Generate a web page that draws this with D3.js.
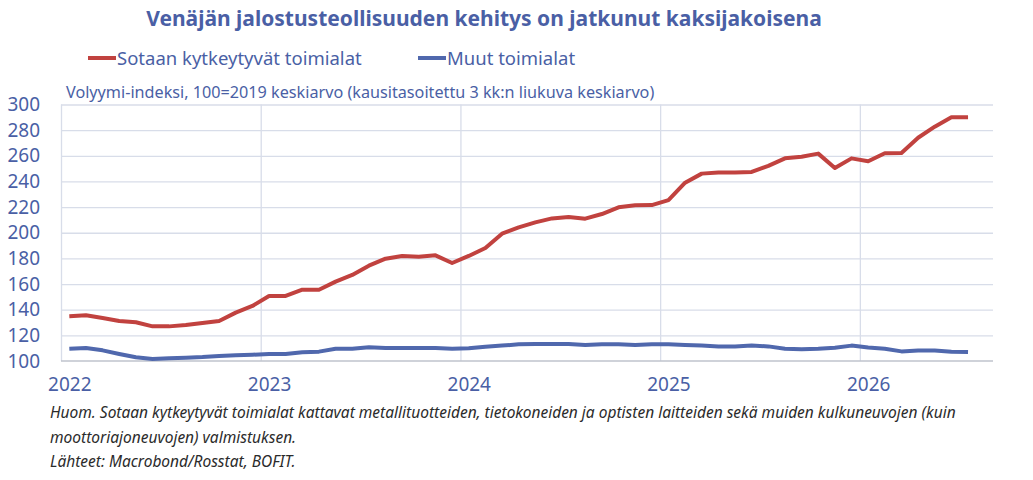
<!DOCTYPE html>
<html>
<head>
<meta charset="utf-8">
<script src="https://cdn.jsdelivr.net/npm/d3@7"></script>
<style>
  body { margin: 0; background: #fff; }
  text { font-family: "Noto Sans", sans-serif; }
</style>
</head>
<body>
<div id="chart"></div>
<script>
// kuukausittaiset havainnot 2022-01 ... 2026-07
var startYear = 2022;
var years = [2022, 2023, 2024, 2025, 2026];
var yTicks = [100, 120, 140, 160, 180, 200, 220, 240, 260, 280, 300];

var sotaan = [134.9, 135.6, 133.5, 131.2, 130.2, 127.0, 127.0, 128.0, 129.6, 131.2,
              137.7, 142.9, 150.7, 150.7, 155.6, 155.6, 161.9, 167.1, 174.3, 179.8,
              181.9, 181.3, 182.4, 176.4, 181.9, 188.1, 199.3, 204.2, 208.1, 211.2,
              212.3, 211.0, 214.6, 219.8, 221.4, 221.6, 225.5, 239.0, 246.1, 246.9,
              246.9, 247.4, 252.1, 258.0, 259.3, 261.7, 250.5, 258.0, 255.7, 262.0,
              262.2, 274.1, 282.7, 290.0, 290.0];
var muut = [109.6, 110.1, 108.3, 105.5, 102.9, 101.6, 102.1, 102.6, 103.1, 103.9,
            104.4, 104.9, 105.5, 105.5, 106.8, 107.3, 109.6, 109.6, 110.7, 110.1,
            110.1, 110.1, 110.1, 109.6, 109.9, 111.2, 112.0, 113.0, 113.2, 113.2,
            113.2, 112.5, 113.0, 113.0, 112.5, 113.0, 113.0, 112.5, 112.0, 111.4,
            111.4, 112.0, 111.4, 109.6, 109.1, 109.6, 110.4, 112.0, 110.6, 109.6,
            107.5, 108.1, 108.1, 107.3, 107.0];

var width = 1033;
var height = 480;
var padding = {left: 61, right: 40, top: 104.5, bottom: 119};

var textColor = "#4a5fa5";
var redColor = "#c1423f";
var blueColor = "#5068ad";

var svg = d3.select("#chart")
            .append("svg")
                .attr("width", width)
                .attr("height", height);

var canvasWidth = width - padding.left - padding.right;
var canvasHeight = height - padding.top - padding.bottom;

var g = svg.append("g")
           .attr("transform", "translate(" + padding.left + "," + padding.top + ")");

// x: kuukausi-indeksi, 0 = tammikuun 2022 alku
var xScale = d3.scaleLinear()
                .domain([0, 56])
                .range([0, canvasWidth]);

var yScale = d3.scaleLinear()
                .domain([100, 300])
                .range([canvasHeight, 0]);

// vaakasuorat ruudukkoviivat
g.append("g")
    .call(d3.axisLeft(yScale).tickValues(yTicks.slice(1)).tickSize(-canvasWidth).tickFormat(""))
    .call(function(a){ a.select(".domain").remove(); })
    .selectAll("line")
        .attr("stroke", "#d8dde9")
        .attr("stroke-width", 1.3);

// pystysuorat vuosiviivat
g.append("g")
    .call(d3.axisBottom(xScale).tickValues(years.map(function(y){ return (y - startYear) * 12; }))
            .tickSize(canvasHeight).tickFormat(""))
    .call(function(a){ a.select(".domain").remove(); })
    .selectAll("line")
        .attr("stroke", "#d8dde9")
        .attr("stroke-width", 1.3);

// pohjaviiva
g.append("line")
    .attr("x1", 0).attr("x2", canvasWidth)
    .attr("y1", canvasHeight).attr("y2", canvasHeight)
    .attr("stroke", "#bfc3cc")
    .attr("stroke-width", 1.3);

// y-akselin luvut
var yAxis = g.append("g")
    .call(d3.axisLeft(yScale).tickValues(yTicks).tickSize(0).tickPadding(21));
yAxis.select(".domain").remove();
yAxis.selectAll("text")
    .attr("fill", textColor)
    .style("font-size", "19px")
    .style("font-family", "Noto Sans");

// x-akselin vuodet
var xAxis = g.append("g")
    .attr("transform", "translate(0," + canvasHeight + ")")
    .call(d3.axisBottom(xScale)
            .tickValues(years.map(function(y){ return (y - startYear) * 12 + 0.5; }))
            .tickSize(0).tickPadding(17)
            .tickFormat(function(d){ return startYear + Math.floor(d / 12); }));
xAxis.select(".domain").remove();
xAxis.selectAll("text")
    .attr("fill", textColor)
    .style("font-size", "19px")
    .style("font-family", "Noto Sans");

var lineFunc = d3.line()
                .x(function(d, i){ return xScale(i + 0.5); })
                .y(function(d){ return yScale(d); });

g.append("path")
    .attr("d", lineFunc(muut))
    .attr("fill", "none")
    .attr("stroke", blueColor)
    .attr("stroke-width", 4)
    .attr("stroke-linejoin", "round");

g.append("path")
    .attr("d", lineFunc(sotaan))
    .attr("fill", "none")
    .attr("stroke", redColor)
    .attr("stroke-width", 4)
    .attr("stroke-linejoin", "round");

// otsikko
svg.append("text")
    .attr("x", 484)
    .attr("y", 26)
    .attr("text-anchor", "middle")
    .attr("fill", textColor)
    .style("font-size", "21px")
    .style("font-weight", "bold")
    .text("Venäjän jalostusteollisuuden kehitys on jatkunut kaksijakoisena");

// selite
var legend = [
    {name: "Sotaan kytkeytyvät toimialat", color: redColor, x: 88},
    {name: "Muut toimialat", color: blueColor, x: 418}
];
var lg = svg.selectAll(".legend")
    .data(legend)
    .enter()
    .append("g")
        .attr("class", "legend")
        .attr("transform", function(d){ return "translate(" + d.x + ",58)"; });
lg.append("line")
    .attr("x1", 0).attr("x2", 28)
    .attr("stroke", function(d){ return d.color; })
    .attr("stroke-width", 4);
lg.append("text")
    .attr("x", 29)
    .attr("y", 7)
    .attr("fill", textColor)
    .style("font-size", "18.5px")
    .text(function(d){ return d.name; });

// yksikkö
svg.append("text")
    .attr("x", 66)
    .attr("y", 98)
    .attr("fill", textColor)
    .style("font-size", "16.2px")
    .text("Volyymi-indeksi, 100=2019 keskiarvo (kausitasoitettu 3 kk:n liukuva keskiarvo)");

// alaviitteet
var notes = [
    "Huom. Sotaan kytkeytyvät toimialat kattavat metallituotteiden, tietokoneiden ja optisten laitteiden sekä muiden kulkuneuvojen (kuin",
    "moottoriajoneuvojen) valmistuksen.",
    "Lähteet: Macrobond/Rosstat, BOFIT."
];
svg.selectAll(".note")
    .data(notes)
    .enter()
    .append("text")
        .attr("class", "note")
        .attr("x", 50)
        .attr("y", function(d, i){ return 418 + i * 24.5; })
        .attr("fill", "#2b2b2b")
        .style("font-size", "15.5px")
        .style("font-style", "italic")
        .text(function(d){ return d; });
</script>
</body>
</html>
